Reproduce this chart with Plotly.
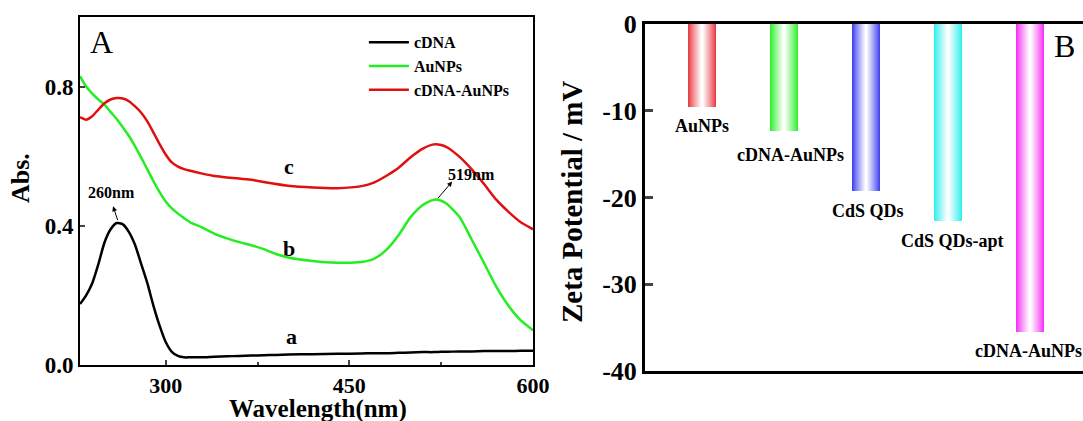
import plotly.graph_objects as go

# ---------------- Data: panel A (UV-vis spectra) ----------------
wavelength = [230, 235, 240, 245, 250, 255, 260, 265, 270, 275, 280, 285, 290, 295,
              300, 305, 310, 315, 320, 330, 340, 350, 360, 370, 380, 390, 400, 420,
              440, 460, 470, 480, 490, 500, 510, 519, 525, 530, 540, 550, 560, 570,
              580, 590, 600]
abs_cdna = [0.175, 0.20, 0.235, 0.29, 0.352, 0.39, 0.408, 0.404, 0.382, 0.345, 0.29, 0.235,
            0.17, 0.113, 0.066, 0.038, 0.026, 0.022, 0.022, 0.022, 0.024, 0.025, 0.026, 0.027,
            0.028, 0.029, 0.030, 0.031, 0.032, 0.033, 0.034, 0.034, 0.035, 0.036, 0.037, 0.037,
            0.038, 0.038, 0.039, 0.039, 0.040, 0.040, 0.040, 0.041, 0.041]
abs_aunps = [0.83, 0.80, 0.78, 0.763, 0.748, 0.727, 0.707, 0.683, 0.658, 0.628, 0.596, 0.562,
             0.528, 0.497, 0.47, 0.45, 0.435, 0.422, 0.41, 0.395, 0.377, 0.364, 0.353, 0.344,
             0.333, 0.319, 0.309, 0.299, 0.294, 0.296, 0.305, 0.33, 0.372, 0.425, 0.46, 0.475,
             0.472, 0.462, 0.425, 0.36, 0.293, 0.225, 0.17, 0.128, 0.10]
abs_cdna_aunps = [0.712, 0.705, 0.715, 0.734, 0.752, 0.763, 0.767, 0.766, 0.758, 0.743, 0.725,
                  0.70, 0.668, 0.635, 0.605, 0.582, 0.57, 0.563, 0.558, 0.55, 0.543, 0.539, 0.536,
                  0.532, 0.526, 0.52, 0.515, 0.51, 0.508, 0.514, 0.524, 0.543, 0.566, 0.597,
                  0.622, 0.634, 0.632, 0.625, 0.598, 0.562, 0.52, 0.475, 0.44, 0.41, 0.39]
series_names = ["cDNA", "AuNPs", "cDNA-AuNPs"]
series_colors = ["#000000", "#22ee22", "#e01010"]
curve_letters = ["a", "b", "c"]

# ---------------- Data: panel B (zeta potential) ----------------
samples = ["AuNPs", "cDNA-AuNPs", "CdS QDs", "CdS QDs-apt", "cDNA-AuNPs"]
positions = [1, 2, 3, 4, 5]
zeta = [-9.6, -12.3, -19.2, -22.7, -35.5]
bar_colors = [(232, 62, 70), (48, 240, 48), (66, 66, 240), (48, 240, 240), (246, 52, 246)]
zeta_ticks = [0, -10, -20, -30, -40]
zeta_ticktext = ["0", "-10", "-20", "-30", "-40"]

SERIF = "Liberation Serif, Times New Roman, serif"
W, H = 1083, 421

fig = go.Figure()

# ---- Panel A traces ----
for name, ys, col in zip(series_names, [abs_cdna, abs_aunps, abs_cdna_aunps], series_colors):
    fig.add_trace(go.Scatter(x=wavelength, y=ys, mode="lines", name=name,
                             line=dict(color=col, width=2.5, shape="spline", smoothing=0.6),
                             xaxis="x", yaxis="y"))

# ---- Panel B gradient bars (nested layers, colour -> white centre) ----
bar_w = 0.34
N = 14
for k in range(N):
    frac = 1 - k / N
    t = (k / (N - 1)) ** 0.9
    cols = ["rgb(%d,%d,%d)" % tuple(int(c + (255 - c) * t) for c in bc) for bc in bar_colors]
    fig.add_trace(go.Bar(x=positions, y=zeta, width=bar_w * frac, marker=dict(color=cols, line=dict(width=0)),
                         showlegend=False, hoverinfo="skip", xaxis="x2", yaxis="y2"))

# ---- Layout ----
fig.update_layout(
    width=W, height=H, margin=dict(l=0, r=0, t=0, b=0),
    paper_bgcolor="white", plot_bgcolor="white",
    barmode="overlay", bargap=0,
    showlegend=True,
    legend=dict(x=0.336, y=0.94, xanchor="left", yanchor="top",
                font=dict(family=SERIF, size=16, color="black", weight="bold"),
                bgcolor="rgba(0,0,0,0)", tracegroupgap=0, itemwidth=40),
    xaxis=dict(domain=[80 / W, 533 / W], range=[230, 600], showline=True, linewidth=2,
               linecolor="black", mirror=True, ticks="inside", ticklen=5, tickwidth=2,
               tickvals=[300, 450, 600], showgrid=False, zeroline=False,
               tickfont=dict(family=SERIF, size=22, color="black", weight="bold"),
               minor=dict(tickvals=[375, 525], ticks="inside", ticklen=3, tickwidth=2),
               anchor="y", automargin=False),
    yaxis=dict(domain=[(H - 365) / H, (H - 17) / H], range=[0, 1.0], showline=True, linewidth=2,
               linecolor="black", mirror=True, ticks="inside", ticklen=5, tickwidth=2,
               tickvals=[0, 0.4, 0.8], tickformat=".1f", showgrid=False, zeroline=False,
               tickfont=dict(family=SERIF, size=23, color="black", weight="bold"),
               anchor="x", automargin=False),
    xaxis2=dict(domain=[645 / W, 1.0], range=[0.305, 5.646], showline=True, linewidth=3,
                linecolor="black", mirror=True, ticks="", showticklabels=False,
                showgrid=False, zeroline=False, anchor="y2", automargin=False),
    yaxis2=dict(domain=[(H - 371) / H, (H - 24) / H], range=[-40, 0], showline=True, linewidth=3,
                linecolor="black", mirror=False, ticks="inside", ticklen=8, tickwidth=3,
                tickvals=zeta_ticks, ticktext=zeta_ticktext, showgrid=False, zeroline=False,
                tickfont=dict(family=SERIF, size=26, color="black", weight="bold"),
                anchor="x2", automargin=False),
)


def paper_text(text, px, py, size, angle=0):
    return dict(text=text, x=px / W, y=(H - py) / H, xref="paper", yref="paper",
                xanchor="center", yanchor="middle", showarrow=False, textangle=angle,
                font=dict(family=SERIF, size=size, color="black"))


ann = []
# Axis titles
ann.append(paper_text("<b>Wavelength(nm)</b>", 318, 409, 25))
ann.append(paper_text("<b>Abs.</b>", 21, 178, 26, -90))
ann.append(paper_text("<b>Zeta Potential / mV</b>", 572, 202, 29, -90))
# Panel letters
ann.append(paper_text("A", 101, 42, 32))
ann.append(paper_text("B", 1064, 46, 32))
# Curve letters
for letter, (lx, ly) in zip(curve_letters, [(403, 0.081), (400.5, 0.336), (400.5, 0.571)]):
    ann.append(dict(text="<b>%s</b>" % letter, x=lx, y=ly, xref="x", yref="y", showarrow=False,
                    font=dict(family=SERIF, size=22, color="black")))
# Peak arrows and labels
ann.append(dict(text="", x=257, y=0.456, ax=261.2, ay=0.412, xref="x", yref="y", axref="x", ayref="y",
                showarrow=True, arrowhead=2, arrowsize=1, arrowwidth=1, arrowcolor="black"))
ann.append(dict(text="<b>260nm</b>", x=255.5, y=0.496, xref="x", yref="y", showarrow=False,
                font=dict(family=SERIF, size=16, color="black")))
ann.append(dict(text="", x=534, y=0.527, ax=521.3, ay=0.475, xref="x", yref="y", axref="x", ayref="y",
                showarrow=True, arrowhead=2, arrowsize=1, arrowwidth=1, arrowcolor="black"))
ann.append(dict(text="<b>519nm</b>", x=550, y=0.547, xref="x", yref="y", showarrow=False,
                font=dict(family=SERIF, size=16, color="black")))
# Bar labels
xshifts = [0, 6, 2, 4, -2]
yshifts = [-7, -12, -8, -8, -7]
for p, v, s, dx, dy in zip(positions, zeta, samples, xshifts, yshifts):
    ann.append(dict(text="<b>%s</b>" % s, x=p, y=v, xref="x2", yref="y2", showarrow=False,
                    yanchor="top", xshift=dx, yshift=dy,
                    font=dict(family=SERIF, size=18, color="black")))
fig.update_layout(annotations=ann)

fig.write_html("out.html")
